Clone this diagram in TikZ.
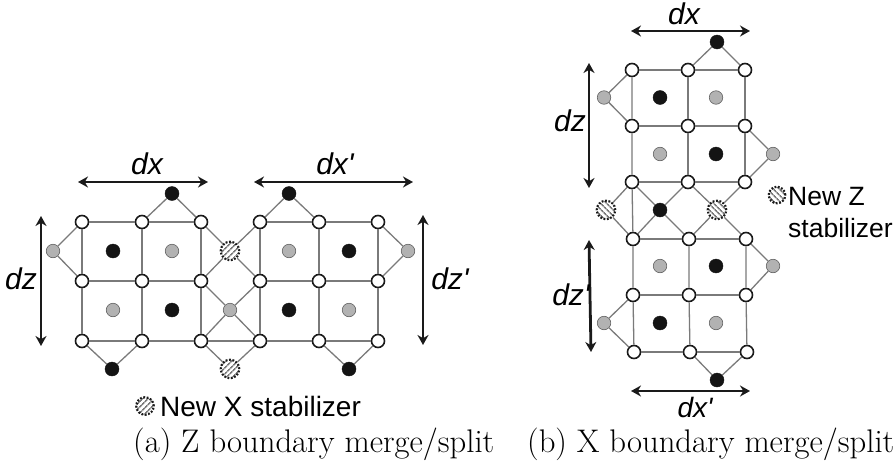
\documentclass[tikz,border=0pt]{standalone}
\usepackage{xcolor}
\usepackage{fontspec}
\usepackage{tikz}
\usetikzlibrary{arrows.meta,patterns.meta}
\newfontfamily\arialfont{Liberation Sans}
\definecolor{qcblack}{HTML}{141414}
\definecolor{qcgray}{HTML}{B2B2B2}
\definecolor{qcedge}{HTML}{7A7A7A}
\definecolor{qcdark}{HTML}{1A1A1A}

\begin{document}
\begin{tikzpicture}[x=1pt, y=-1pt,
    dataq/.style={circle, draw=qcdark, line width=1.6pt, fill=white, minimum size=13pt, inner sep=0pt},
    blackq/.style={circle, draw=qcblack, line width=0.4pt, fill=qcblack, minimum size=14pt, inner sep=0pt},
    grayq/.style={circle, draw=qcdark!70, line width=0.6pt, fill=qcgray, minimum size=13.5pt, inner sep=0pt},
    newx/.style={circle, draw=qcdark, line width=2.2pt, dash pattern=on 1.8pt off 1.6pt, preaction={fill=white}, pattern={Lines[angle=45, distance=4pt, line width=1.7pt]}, pattern color=qcedge, minimum size=18.5pt, inner sep=0pt},
    newz/.style={circle, draw=qcdark, line width=2.2pt, dash pattern=on 1.8pt off 1.6pt, preaction={fill=white}, pattern={Lines[angle=-45, distance=4pt, line width=1.7pt]}, pattern color=qcedge, minimum size=18.5pt, inner sep=0pt},
    edge/.style={draw=qcedge, line width=1.3pt},
    dimarrow/.style={draw=qcdark, line width=2.8pt, {Stealth[length=10pt,width=11pt]}-{Stealth[length=10pt,width=11pt]}},
    dimlabel/.style={font=\arialfont\itshape\fontsize{30}{32}\selectfont, inner sep=0pt},
    keytext/.style={font=\arialfont\fontsize{26.5}{34}\selectfont, inner sep=0pt, anchor=west},
    subcap/.style={font=\fontsize{32.7}{36}\selectfont, inner sep=0pt, anchor=base west}]
  \useasboundingbox (0,0) rectangle (896,463);

  \node[dataq] (a11) at (82,222) {};
  \node[dataq] (a12) at (142,222) {};
  \node[dataq] (a13) at (201,222) {};
  \node[dataq] (a14) at (260,222) {};
  \node[dataq] (a15) at (319,222) {};
  \node[dataq] (a16) at (378,222) {};
  \node[dataq] (a21) at (82,281) {};
  \node[dataq] (a22) at (142,281) {};
  \node[dataq] (a23) at (201,281) {};
  \node[dataq] (a24) at (260,281) {};
  \node[dataq] (a25) at (319,281) {};
  \node[dataq] (a26) at (378,281) {};
  \node[dataq] (a31) at (82,341) {};
  \node[dataq] (a32) at (142,341) {};
  \node[dataq] (a33) at (201,341) {};
  \node[dataq] (a34) at (260,341) {};
  \node[dataq] (a35) at (319,341) {};
  \node[dataq] (a36) at (378,341) {};
  \node[blackq] (atopl) at (172,193.5) {};
  \node[blackq] (atopr) at (289,193.5) {};
  \node[blackq] (abotl) at (112,369) {};
  \node[blackq] (abotr) at (349,369) {};
  \node[grayq] (aleft) at (53,251) {};
  \node[grayq] (aright) at (408,251) {};
  \node[blackq] (ap1) at (113,251) {};
  \node[grayq] (ap2) at (172,251) {};
  \node[grayq] (ap3) at (289,251) {};
  \node[blackq] (ap4) at (349,251) {};
  \node[grayq] (ap5) at (113,310) {};
  \node[blackq] (ap6) at (172,310) {};
  \node[grayq] (amid) at (230,310) {};
  \node[blackq] (ap7) at (289,310) {};
  \node[grayq] (ap8) at (349,310) {};
  \node[newx] (anewt) at (230,251) {};
  \node[newx] (anewb) at (230,369) {};

  \draw[edge] (a11) -- (a12) -- (a13);
  \draw[edge] (a14) -- (a15) -- (a16);
  \draw[edge] (a21) -- (a22) -- (a23);
  \draw[edge] (a24) -- (a25) -- (a26);
  \draw[edge] (a31) -- (a32) -- (a33) -- (a34) -- (a35) -- (a36);
  \draw[edge] (a11) -- (a21) -- (a31);
  \draw[edge] (a12) -- (a22) -- (a32);
  \draw[edge] (a13) -- (a23) -- (a33);
  \draw[edge] (a14) -- (a24) -- (a34);
  \draw[edge] (a15) -- (a25) -- (a35);
  \draw[edge] (a16) -- (a26) -- (a36);
  \draw[edge] (a11) -- (aleft) -- (a21);
  \draw[edge] (a16) -- (aright) -- (a26);
  \draw[edge] (a12) -- (atopl) -- (a13);
  \draw[edge] (a14) -- (atopr) -- (a15);
  \draw[edge] (a31) -- (abotl) -- (a32);
  \draw[edge] (a35) -- (abotr) -- (a36);
  \draw[edge] (a13) -- (anewt) -- (a14);
  \draw[edge] (a23) -- (anewt) -- (a24);
  \draw[edge] (a23) -- (amid) -- (a24);
  \draw[edge] (a33) -- (amid) -- (a34);
  \draw[edge] (a33) -- (anewb) -- (a34);

  \coordinate (adxa) at (78,182);
  \coordinate (adxb) at (208,182);
  \coordinate (adxc) at (254,182);
  \coordinate (adxd) at (413,182);
  \coordinate (adza) at (41,216);
  \coordinate (adzb) at (41,346);
  \coordinate (adzc) at (423,215);
  \coordinate (adzd) at (423,345);
  \draw[dimarrow] (adxa) -- (adxb);
  \draw[dimarrow] (adxc) -- (adxd);
  \draw[dimarrow] (adza) -- (adzb);
  \draw[dimarrow] (adzc) -- (adzd);
  \node[dimlabel] (adx) at (147,164) {dx};
  \node[dimlabel] (adxp) at (335,164) {dx'};
  \node[dimlabel] (adz) at (21,279) {dz};
  \node[dimlabel] (adzp) at (450,279) {dz'};

  \node[newx, minimum size=17.5pt] (akey) at (145,406) {};
  \node[keytext, font=\arialfont\fontsize{28}{34}\selectfont] (akeytext) at (160,406.5) {New X stabilizer};
  \node[subcap] (acap) at (133,452) {(a) Z boundary merge/split};

  \node[dataq] (b11) at (632,70) {};
  \node[dataq] (b12) at (688,70) {};
  \node[dataq] (b13) at (745,70) {};
  \node[dataq] (b21) at (632,126) {};
  \node[dataq] (b22) at (688,126) {};
  \node[dataq] (b23) at (745,126) {};
  \node[dataq] (b31) at (632,182) {};
  \node[dataq] (b32) at (688,182) {};
  \node[dataq] (b33) at (745,182) {};
  \node[dataq] (b41) at (633,239) {};
  \node[dataq] (b42) at (689,239) {};
  \node[dataq] (b43) at (746,239) {};
  \node[dataq] (b51) at (633,295) {};
  \node[dataq] (b52) at (689,295) {};
  \node[dataq] (b53) at (746,295) {};
  \node[dataq] (b61) at (634,352) {};
  \node[dataq] (b62) at (690,352) {};
  \node[dataq] (b63) at (747,352) {};
  \node[blackq] (btop) at (717,42) {};
  \node[blackq] (bbot) at (717,380) {};
  \node[grayq] (bleftt) at (604,97.5) {};
  \node[grayq] (bleftb) at (604,323) {};
  \node[grayq] (brightt) at (773,154) {};
  \node[grayq] (brightb) at (773,266) {};
  \node[blackq] (bp1) at (660,97.5) {};
  \node[grayq] (bp2) at (716,97.5) {};
  \node[grayq] (bp3) at (660,154) {};
  \node[blackq] (bp4) at (716,154) {};
  \node[blackq] (bmid) at (660,210) {};
  \node[grayq] (bp5) at (660,266) {};
  \node[blackq] (bp6) at (716,266) {};
  \node[blackq] (bp7) at (660,323) {};
  \node[grayq] (bp8) at (716,323) {};
  \node[newz] (bnewl) at (606,210) {};
  \node[newz] (bnewr) at (717,210) {};

  \draw[edge] (b11) -- (b12) -- (b13);
  \draw[edge] (b21) -- (b22) -- (b23);
  \draw[edge] (b31) -- (b32) -- (b33);
  \draw[edge] (b41) -- (b42) -- (b43);
  \draw[edge] (b51) -- (b52) -- (b53);
  \draw[edge] (b61) -- (b62) -- (b63);
  \draw[edge] (b11) -- (b21) -- (b31) -- (b41) -- (b51) -- (b61);
  \draw[edge] (b12) -- (b22) -- (b32);
  \draw[edge] (b13) -- (b23) -- (b33);
  \draw[edge] (b42) -- (b52) -- (b62);
  \draw[edge] (b43) -- (b53) -- (b63);
  \draw[edge] (b12) -- (btop) -- (b13);
  \draw[edge] (b62) -- (bbot) -- (b63);
  \draw[edge] (b11) -- (bleftt) -- (b21);
  \draw[edge] (b51) -- (bleftb) -- (b61);
  \draw[edge] (b23) -- (brightt) -- (b33);
  \draw[edge] (b43) -- (brightb) -- (b53);
  \draw[edge] (b31) -- (bnewl) -- (b41);
  \draw[edge] (b31) -- (bmid) -- (b42);
  \draw[edge] (b32) -- (bmid) -- (b41);
  \draw[edge] (b32) -- (bnewr) -- (b43);
  \draw[edge] (b33) -- (bnewr) -- (b42);

  \coordinate (bdxa) at (631,31);
  \coordinate (bdxb) at (750,31);
  \coordinate (bdxc) at (631,391);
  \coordinate (bdxd) at (750,391);
  \coordinate (bdza) at (589,63);
  \coordinate (bdzb) at (589,188);
  \coordinate (bdzc) at (589,240);
  \coordinate (bdzd) at (591,352);
  \draw[dimarrow] (bdxa) -- (bdxb);
  \draw[dimarrow] (bdxc) -- (bdxd);
  \draw[dimarrow] (bdza) -- (bdzb);
  \draw[dimarrow] (bdzc) -- (bdzd);
  \node[dimlabel] (bdx) at (684,14) {dx};
  \node[dimlabel, font=\arialfont\itshape\fontsize{28}{30}\selectfont] (bdxp) at (695,407) {dx'};
  \node[dimlabel] (bdz) at (570,121) {dz};
  \node[dimlabel] (bdzp) at (571,295) {dz'};

  \node[newz, minimum size=16.5pt] (bkey) at (777,195) {};
  \node[keytext] (bkeytexta) at (788,197) {New Z};
  \node[keytext] (bkeytextb) at (788,228) {stabilizer};
  \node[subcap] (bcap) at (527,452) {(b) X boundary merge/split};
\end{tikzpicture}
\end{document}
